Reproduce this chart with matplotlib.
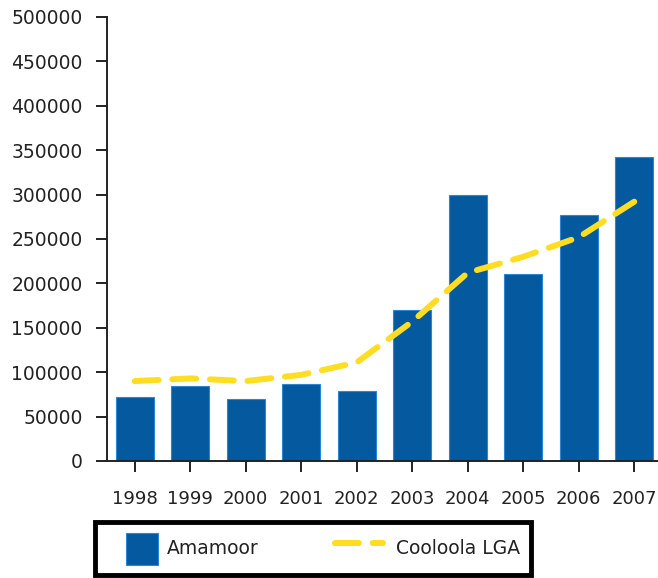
import numpy as np
import matplotlib.pyplot as plt
from matplotlib.patches import Rectangle
from matplotlib.legend_handler import HandlerPatch

plt.rcParams['font.family'] = ['DejaVu Sans']

years = ['1998', '1999', '2000', '2001', '2002', '2003', '2004', '2005', '2006', '2007']
amamoor = [72000, 84500, 70000, 86500, 79000, 170000, 299500, 210500, 277000, 342500]
cooloola = [90000, 93000, 90000, 97000, 111000, 157000, 212000, 230000, 252000, 292000]

bar_col = '#04599f'
bar_edge = '#2a86d6'
line_col = '#ffdd22'


def square_patch(legend, orig_handle, xdescent, ydescent, width, height, fontsize):
    # square swatch pushed to the right side of the handle box
    return Rectangle((-xdescent + width - height + 3, -ydescent), height, height)


fig = plt.figure(figsize=(6.58, 5.78), dpi=100)
ax = fig.add_axes([107 / 658, (578 - 461) / 578, (662 - 107) / 658, 444 / 578])

x = np.arange(len(years))
ax.bar(x, amamoor, width=0.69, color=bar_col, edgecolor=bar_edge,
       linewidth=0.8, zorder=2)
line, = ax.plot(x, cooloola, color=line_col, lw=4.3, dashes=(4, 2.3),
                solid_capstyle='round', dash_capstyle='round', solid_joinstyle='round',
                zorder=3)

ax.set_xlim(-0.5, 9.5)
ax.set_ylim(0, 500000)
ax.set_yticks(np.arange(0, 500001, 50000))
ax.set_xticks(x)
ax.set_xticklabels(years)
ax.spines['top'].set_visible(False)
ax.spines['right'].set_visible(False)
for s in ['left', 'bottom']:
    ax.spines[s].set_linewidth(1.4)
    ax.spines[s].set_color('#222222')
ax.tick_params(axis='both', length=8, width=1.4, color='#222222', labelcolor='#222222')
ax.tick_params(axis='x', pad=13, labelsize=13)
ax.tick_params(axis='y', pad=9.5, labelsize=13.5)

swatch = Rectangle((0, 0), 1, 1, facecolor=bar_col, edgecolor=bar_edge, linewidth=0.8)
leg = fig.legend(handles=[swatch, line], labels=['Amamoor', 'Cooloola LGA'],
                 loc='upper left', bbox_to_anchor=(95 / 658, 1 - 522 / 578),
                 ncol=2, fontsize=13.5, frameon=True, fancybox=False, framealpha=1,
                 edgecolor='black', handlelength=2.56, handleheight=2.25,
                 handletextpad=0.7, borderpad=0.56, borderaxespad=0, columnspacing=4.1,
                 handler_map={Rectangle: HandlerPatch(patch_func=square_patch)})
leg.get_frame().set_linewidth(3.5)
for t in leg.get_texts():
    t.set_color('#222222')

fig.savefig('out.png', dpi=100)
